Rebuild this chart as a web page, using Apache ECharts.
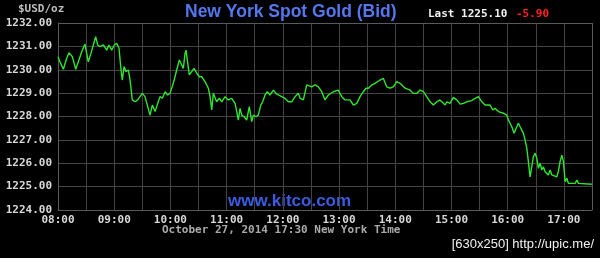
<!DOCTYPE html>
<html>
<head>
<meta charset="utf-8">
<script src="https://cdn.jsdelivr.net/npm/echarts@6/dist/echarts.min.js"></script>
<style>html,body{margin:0;padding:0;background:#000;}#c{width:600px;height:258px;}</style>
</head>
<body>
<div id="c"></div>
<script>
// minutes after 08:00 New York time
var minutes = [0,2.1,5.7,9.3,11.7,15.3,18.9,21.7,25.3,28.8,32.3,35.2,37.7,40.2,42.4,44.8,48.4,50.2,52.0,54.4,57.3,60.1,62.7,65.1,67.3,68.6,70.5,72.6,75.1,76.9,79.3,82.2,85.1,87.5,90.0,92.9,95.8,98.2,100.7,103.6,106.4,108.9,111.4,114.3,117.1,119.6,123.1,126.7,129.5,132.1,133.8,135.6,136.7,138.0,140.2,142.7,145.2,148.1,150.9,153.4,156.9,160.5,162.3,164.1,165.8,169.4,172.2,174.8,178.3,181.8,185.4,189.0,190.8,192.5,194.3,196.1,198.6,201.4,204.2,206.8,208.5,211.4,213.8,216.4,218.5,221.0,223.4,226.3,229.9,232.7,235.2,238.8,242.3,245.9,249.5,253.0,256.5,258.4,260.2,261.9,265.5,267.2,270.8,274.4,277.9,281.5,285.0,288.6,293.9,299.2,302.9,306.4,311.7,315.3,318.9,322.4,325.9,328.8,331.3,334.9,338.4,343.8,347.3,350.9,354.4,358.0,361.6,365.1,370.5,375.8,379.0,383.0,386.5,390.0,393.6,397.2,400.7,404.3,407.8,409.6,413.2,415.0,418.5,422.0,425.6,429.2,432.7,436.3,441.6,445.2,448.7,452.4,455.9,461.2,464.1,466.5,470.1,475.4,479.0,480.8,484.4,486.8,489.0,491.4,494.0,496.8,498.6,500.4,502.1,503.9,505.7,507.4,509.2,511.1,512.8,514.6,516.4,518.1,519.9,521.7,523.4,525.3,527.1,528.8,532.4,534.1,535.9,537.8,539.5,541.3,543.1,544.8,552.0,553.8,555.5,569.8];
var bidPrices = [1230.56,1230.34,1230.02,1230.49,1230.73,1230.56,1230.02,1230.34,1230.77,1231.10,1230.34,1230.70,1231.06,1231.41,1231.06,1230.99,1231.06,1231.13,1230.84,1231.06,1230.84,1231.06,1231.13,1230.92,1229.99,1229.56,1230.13,1229.92,1229.99,1229.56,1228.71,1228.63,1228.71,1228.85,1228.99,1228.85,1228.42,1228.06,1228.49,1228.21,1228.56,1228.85,1228.78,1229.06,1228.92,1229.00,1229.42,1229.99,1230.42,1230.20,1230.06,1230.70,1230.84,1230.42,1229.78,1229.92,1230.06,1229.85,1229.70,1229.70,1229.49,1229.21,1228.85,1228.28,1228.99,1228.63,1228.78,1228.63,1228.85,1228.71,1228.78,1228.56,1228.21,1227.85,1228.35,1228.06,1227.99,1227.85,1228.42,1227.78,1228.06,1227.99,1228.06,1228.49,1228.63,1228.92,1229.06,1228.92,1229.13,1228.99,1228.92,1228.85,1228.78,1228.63,1228.63,1228.85,1228.99,1228.78,1228.85,1228.71,1229.35,1229.42,1229.27,1229.35,1229.27,1229.06,1228.71,1228.92,1229.06,1229.13,1228.85,1228.71,1228.71,1228.49,1228.56,1228.85,1229.06,1229.21,1229.21,1229.35,1229.42,1229.56,1229.63,1229.27,1229.21,1229.27,1229.49,1229.42,1229.21,1229.13,1228.99,1228.99,1229.13,1229.06,1228.85,1228.63,1228.49,1228.63,1228.71,1228.78,1228.49,1228.63,1228.56,1228.82,1228.71,1228.53,1228.56,1228.63,1228.68,1228.78,1228.85,1228.63,1228.49,1228.49,1228.28,1228.35,1228.21,1228.14,1228.06,1227.85,1227.56,1227.28,1227.50,1227.71,1227.50,1227.28,1226.99,1226.64,1226.07,1225.42,1225.85,1226.28,1226.43,1226.21,1225.78,1226.00,1225.71,1225.85,1225.64,1225.57,1225.50,1225.71,1225.50,1225.42,1225.42,1225.64,1226.07,1226.35,1226.07,1225.21,1225.36,1225.14,1225.14,1225.28,1225.14,1225.10];
var hourLabels = ['08:00','09:00','10:00','11:00','12:00','13:00','14:00','15:00','16:00','17:00'];
var titleText = 'New York Spot Gold (Bid)';
var lastText = 'Last 1225.10';
var changeText = '-5.90';
var unitText = '$USD/oz';
var dateText = 'October 27, 2014 17:30 New York Time';
var siteText = 'www.kitco.com';
var footText = '[630x250] http://upic.me/';

var seriesData = minutes.map(function (m, i) { return [m, bidPrices[i]]; });
var mono = '"DejaVu Sans Mono", "Liberation Mono", monospace';

var chart = echarts.init(document.getElementById('c'), null, { renderer: 'canvas' });
chart.setOption({
  backgroundColor: '#000',
  animation: false,
  grid: { left: 58, right: 8, top: 23, bottom: 48, show: false },
  xAxis: {
    type: 'value', min: 0, max: 570, interval: 30,
    axisLine: { show: true, onZero: false, lineStyle: { color: '#5a5a5a', width: 1 } },
    axisTick: { show: false },
    splitLine: { show: true, lineStyle: { color: '#444', width: 1 } },
    axisLabel: {
      color: '#d8d8d8', fontFamily: mono, fontWeight: 'bold', fontSize: 11, margin: 5,
      formatter: function (v) { return v % 60 === 0 ? hourLabels[v / 60] : ''; },
      showMaxLabel: false
    }
  },
  yAxis: {
    type: 'value', min: 1224, max: 1232, interval: 1,
    axisLine: { show: true, lineStyle: { color: '#5a5a5a', width: 1 } },
    axisTick: { show: false },
    splitLine: { show: true, lineStyle: { color: '#444', width: 1 } },
    axisLabel: {
      color: '#d8d8d8', fontFamily: mono, fontWeight: 'bold', fontSize: 11, margin: 6,
      formatter: function (v) { return v.toFixed(2); }
    }
  },
  series: [{
    type: 'line', data: seriesData, symbol: 'none', smooth: false,
    lineStyle: { color: '#2ee62e', width: 1.4 }
  }],
  graphic: [
    { type: 'line', shape: { x1: 58, y1: 23.5, x2: 592, y2: 23.5 }, style: { stroke: '#5a5a5a', lineWidth: 1 }, z: 10 },
    { type: 'line', shape: { x1: 592.5, y1: 23, x2: 592.5, y2: 210 }, style: { stroke: '#5a5a5a', lineWidth: 1 }, z: 10 },
    { type: 'text', left: 185, top: 3, style: { text: titleText, fill: '#5577ee', font: 'bold 17.5px "Liberation Sans", Arial, sans-serif' } },
    { type: 'text', left: 428, top: 9, style: { text: lastText, fill: '#f0f0f0', font: 'bold 11px ' + mono } },
    { type: 'text', left: 516, top: 9, style: { text: changeText, fill: '#ff2020', font: 'bold 11px ' + mono } },
    { type: 'text', left: 18, top: 4, style: { text: unitText, fill: '#bdbdbd', font: 'bold 11px ' + mono } },
    { type: 'text', left: 162, top: 225, style: { text: dateText, fill: '#aaaaaa', font: 'bold 11px ' + mono } },
    { type: 'text', left: 228, top: 193, style: { text: siteText, fill: '#3b5ce0', font: 'bold 17px "Liberation Sans", Arial, sans-serif' } },
    { type: 'text', right: 6, top: 238, style: { text: footText, fill: '#f2f2f2', font: '13px "Liberation Sans Narrow", "Liberation Sans", sans-serif' } }
  ]
});
</script>
</body>
</html>
